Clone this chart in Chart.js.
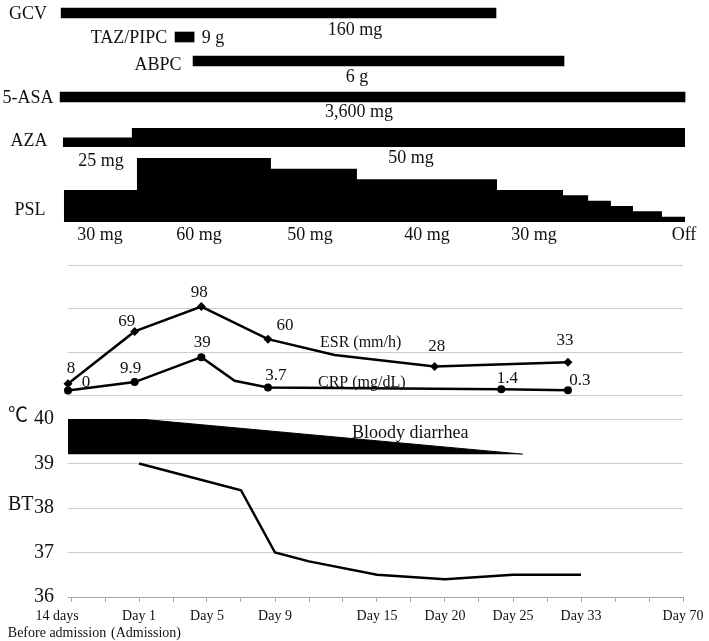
<!DOCTYPE html>
<html>
<head>
<meta charset="utf-8">
<script src="https://cdn.jsdelivr.net/npm/chart.js@4.4.1/dist/chart.umd.min.js"></script>
<style>
  html, body { margin: 0; padding: 0; background: #fff; }
  #wrap { position: relative; width: 709px; height: 641px; }
  .panel { position: absolute; left: 0; width: 709px; }
</style>
</head>
<body>
<div id="wrap">
  <div class="panel" style="top:0;height:250px"><canvas id="drugChart"></canvas></div>
  <div class="panel" style="top:250px;height:150px"><canvas id="labChart"></canvas></div>
  <div class="panel" style="top:400px;height:241px"><canvas id="btChart"></canvas></div>
</div>
<script>
// timeline slots (bottom axis), one per tick
const slotLabels = [['14 days', 'Before admission'], '', ['Day 1', '(Admission)'], '', 'Day 5', '', 'Day 9', '', '',
  'Day 15', '', 'Day 20', '', 'Day 25', '', 'Day 33', '', '', 'Day 70'];

// drugs given at a fixed dose
const drugNames = ['GCV', 'TAZ/PIPC', 'ABPC', '5-ASA'];
const drugStart = [-0.29, 3.06, 3.59, -0.32];
const drugEnd = [12.5, 3.62, 14.5, 18.06];
const drugDose = ['160 mg', '9 g', '6 g', '3,600 mg'];

// AZA and PSL, bar height follows dose (mg)
const azaSlots = [-0.24, 1.79, 18.06];
const azaDose = [25, 50, 50];
const azaLabels = ['25 mg', '50 mg'];
const pslSlots = [-0.21, 1.94, 5.88, 8.41, 12.53, 14.47, 15.21, 15.88, 16.53, 17.38, 18.06];
const pslDose = [30, 60, 50, 40, 30, 25, 20, 15, 10, 5, 5];
const pslLabels = ['30 mg', '60 mg', '50 mg', '40 mg', '30 mg', 'Off'];

// labs
const esrSlots = [0, 2, 4, 6, 8, 11, 15];
const esrValues = [8, 69, 98, 60, 41.5, 28, 33];
const esrMarked = [true, true, true, true, false, true, true];
const crpSlots = [0, 2, 4, 5, 6, 13, 15];
const crpValues = [0, 9.9, 39, 11.5, 3.7, 1.4, 0.3];
const crpMarked = [true, true, true, false, true, true, true];

// body temperature and bloody diarrhea band
const btSlots = [2, 5, 6, 7, 9, 11, 13, 15];
const btValues = [39.0, 38.4, 37.0, 36.8, 36.5, 36.4, 36.5, 36.5];
const diarrheaSlots = [-0.09, 2, 13.29];
const diarrheaTop = [40, 40, 39.21];
const diarrheaBase = 39.21;

const SERIF = '"Liberation Serif", "Times New Roman", "Noto Sans CJK JP", serif';
const INK = '#111';

function notesPlugin(getItems) {
  return {
    id: 'notes',
    afterDatasetsDraw(chart) {
      const ctx = chart.ctx;
      ctx.save();
      ctx.fillStyle = INK;
      ctx.textBaseline = 'alphabetic';
      for (const t of getItems(chart)) {
        ctx.font = (t.size || 18) + 'px ' + SERIF;
        ctx.textAlign = t.align || 'center';
        ctx.fillText(t.text, t.x, t.y);
      }
      ctx.restore();
    }
  };
}

const pts = (xs, ys) => xs.map((x, i) => ({ x: x, y: ys[i] }));
const base = {
  responsive: true,
  maintainAspectRatio: false,
  animation: false,
  events: [],
  plugins: { legend: { display: false }, tooltip: { enabled: false } }
};

// ---------- top: drugs ----------
const drugLane = [0, 1, 2, 3.5];
const drugNamePos = [[28, 19], [129, 43], [158, 70], [28, 103]];
const drugDosePos = [[355, 35], [213, 43], [357, 82], [359, 117]];

new Chart(document.getElementById('drugChart'), {
  data: {
    datasets: [
      {
        type: 'bar', indexAxis: 'y', xAxisID: 'x', yAxisID: 'yLane',
        data: drugNames.map((n, i) => ({ x: [drugStart[i], drugEnd[i]], y: drugLane[i] })),
        backgroundColor: '#000', barThickness: 10, borderWidth: 0
      },
      {
        type: 'line', xAxisID: 'x', yAxisID: 'yAza', data: pts(azaSlots, azaDose),
        stepped: true, fill: 'origin', backgroundColor: '#000', borderWidth: 0, pointRadius: 0
      },
      {
        type: 'line', xAxisID: 'x', yAxisID: 'yPsl', data: pts(pslSlots, pslDose),
        stepped: true, fill: 'origin', backgroundColor: '#000', borderWidth: 0, pointRadius: 0
      }
    ]
  },
  options: Object.assign({}, base, {
    layout: { padding: 0 },
    scales: {
      x: { type: 'linear', display: false, offset: false, min: -71 / 34, max: (709 - 71) / 34 },
      yLane: { type: 'linear', axis: 'y', display: false, offset: false, reverse: true, min: -13 / 24, max: (250 - 13) / 24 },
      yAza: { type: 'linear', axis: 'y', display: false, min: -103 / 0.38, max: 147 / 0.38 },
      yPsl: { type: 'linear', axis: 'y', display: false, min: -28 / 1.0667, max: 222 / 1.0667 }
    }
  }),
  plugins: [notesPlugin(() => {
    const items = [];
    drugNames.forEach((n, i) => {
      items.push({ text: n, x: drugNamePos[i][0], y: drugNamePos[i][1] });
      items.push({ text: drugDose[i], x: drugDosePos[i][0], y: drugDosePos[i][1] });
    });
    items.push({ text: 'AZA', x: 29, y: 146 });
    items.push({ text: azaLabels[0], x: 101, y: 166 });
    items.push({ text: azaLabels[1], x: 411, y: 163 });
    items.push({ text: 'PSL', x: 30, y: 215 });
    const pslX = [100, 199, 310, 427, 534, 684];
    pslLabels.forEach((l, i) => items.push({ text: l, x: pslX[i], y: 240 }));
    return items;
  })]
});

// ---------- middle: ESR / CRP ----------
const esrOffset = [[3, -11], [-8, -5], [-2, -10], [17, -9], null, [2, -16], [-3, -17]];
const crpOffset = [[18, -4], [-4, -9], [1, -10], null, [8, -7], [6, -6], [12, -5]];

new Chart(document.getElementById('labChart'), {
  type: 'line',
  data: {
    datasets: [
      {
        label: 'ESR (mm/h)', data: pts(esrSlots, esrValues),
        borderColor: '#000', borderWidth: 2.5, tension: 0, clip: false,
        pointStyle: 'rectRot', pointRadius: esrMarked.map(m => m ? 4.5 : 0),
        pointBackgroundColor: '#000', pointBorderWidth: 0
      },
      {
        label: 'CRP (mg/dL)', data: pts(crpSlots, crpValues),
        borderColor: '#000', borderWidth: 2.5, tension: 0, clip: false,
        pointStyle: 'circle', pointRadius: crpMarked.map(m => m ? 4 : 0),
        pointBackgroundColor: '#000', pointBorderWidth: 0
      }
    ]
  },
  options: Object.assign({}, base, {
    layout: { padding: { left: 68, right: 26, top: 15, bottom: 3 } },
    scales: {
      x: { type: 'linear', display: false, min: 0, max: 615 / 33.33 },
      y: { type: 'linear', display: false, min: -5 / 0.8667, max: 127 / 0.8667 },
      yGrid: {
        type: 'linear', axis: 'y', position: 'left', min: 0, max: 3,
        ticks: { display: false, stepSize: 1 },
        grid: { color: '#cccccc', drawTicks: false },
        border: { display: false },
        afterFit(s) { s.width = 0; }
      }
    }
  }),
  plugins: [notesPlugin(chart => {
    const items = [];
    [[0, esrValues, esrOffset], [1, crpValues, crpOffset]].forEach(([d, vals, offs]) => {
      chart.getDatasetMeta(d).data.forEach((p, i) => {
        if (!offs[i]) return;
        items.push({ text: String(vals[i]), x: p.x + offs[i][0], y: p.y + offs[i][1], size: 17 });
      });
    });
    items.push({ text: 'ESR (mm/h)', x: 320, y: 97, size: 16, align: 'left' });
    items.push({ text: 'CRP (mg/dL)', x: 318, y: 137, size: 16, align: 'left' });
    return items;
  })]
});

// ---------- bottom: body temperature ----------
const firstPad = '        ';

new Chart(document.getElementById('btChart'), {
  type: 'line',
  data: {
    datasets: [
      {
        label: 'Bloody diarrhea', data: pts(diarrheaSlots, diarrheaTop),
        fill: { value: diarrheaBase }, backgroundColor: '#000', borderColor: '#000',
        borderWidth: 1, pointRadius: 0, tension: 0
      },
      {
        label: 'BT', data: pts(btSlots, btValues),
        borderColor: '#000', borderWidth: 2.5, pointRadius: 0, tension: 0, fill: false
      }
    ]
  },
  options: Object.assign({}, base, {
    layout: { padding: { top: 19, right: 26, left: 0, bottom: 0 } },
    scales: {
      x: {
        type: 'linear', min: -3 / 34, max: 18,
        afterBuildTicks(s) { s.ticks = slotLabels.map((l, i) => ({ value: i })); },
        afterFit(s) { s.height = 44; s.paddingLeft = 0; s.paddingRight = 0; },
        ticks: {
          autoSkip: false, maxRotation: 0, padding: 6, color: INK,
          font: { family: SERIF, size: 14 },
          callback(v) {
            const l = slotLabels[v];
            if (v === 0) return l.map(s => s + firstPad);
            if (v === 2) return [l[0], '    ' + l[1]];
            return l;
          }
        },
        grid: { drawOnChartArea: false, tickLength: 5, color: '#a6a6a6' },
        border: { color: '#a6a6a6' }
      },
      y: {
        min: 36, max: 40,
        afterFit(s) { s.width = 68; s.paddingTop = 0; s.paddingBottom = 0; },
        ticks: { stepSize: 1, padding: 14, color: INK, font: { family: SERIF, size: 20 } },
        grid: { color: '#cccccc', drawTicks: false },
        border: { display: false }
      }
    }
  }),
  plugins: [notesPlugin(() => [
    { text: '℃', x: 18, y: 22, size: 20 },
    { text: 'BT', x: 8, y: 110, size: 20, align: 'left' },
    { text: 'Bloody diarrhea', x: 352, y: 38, size: 18, align: 'left' }
  ])]
});
</script>
</body>
</html>
